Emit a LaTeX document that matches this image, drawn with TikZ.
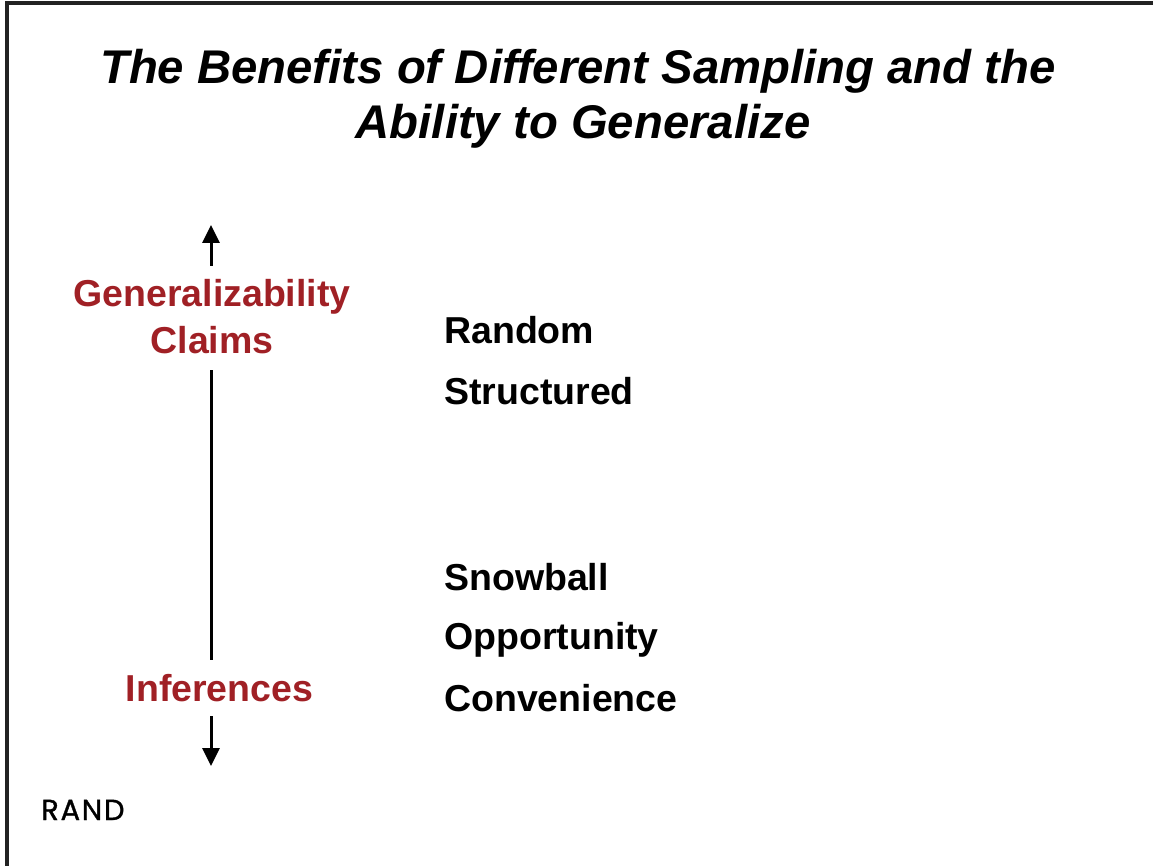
\documentclass[tikz,border=0pt]{standalone}
\usepackage{fontspec}
\setmainfont{Liberation Sans}
\newfontfamily\logofont[LetterSpace=6,FakeBold=1.2]{Poppins}
\usetikzlibrary{arrows.meta}
\definecolor{randred}{RGB}{160,32,37}
\definecolor{framegray}{RGB}{34,34,34}
\tikzset{
  titletext/.style={font=\fontsize{47.3}{56}\selectfont\bfseries\itshape, anchor=base, inner sep=0pt},
  axislabel/.style={font=\fontsize{37.5}{46}\selectfont\bfseries, text=randred, anchor=base, inner sep=0pt},
  item/.style={font=\fontsize{37.5}{46}\selectfont\bfseries, anchor=base west, inner sep=0pt},
  axisline/.style={line width=3pt, black},
  axisarrow/.style={line width=3pt, black, -{Triangle[length=18pt,width=17pt]}},
  frameline/.style={line width=3.5pt, framegray}
}
\begin{document}
\begin{tikzpicture}[x=1pt, y=-1pt]
\useasboundingbox (0,0) rectangle (1153,866);
% frame
\coordinate (fbl) at (7,866);
\coordinate (ftl) at (7,3);
\coordinate (ftr) at (1153,3);
\draw[frameline] (fbl) -- (ftl) -- (ftr);
% title
\node[titletext] (t1) at (578,84) {The Benefits of Different Sampling and the};
\node[titletext] (t2) at (583,139) {Ability to Generalize};
% axis labels
\node[axislabel] (gen) at (212,307) {Generalizability};
\node[axislabel] (claims) at (212,353) {Claims};
\node[axislabel] (inf) at (219.5,701) {Inferences};
% items
\node[item] (random) at (444,344) {Random};
\node[item] (structured) at (444,404) {Structured};
\node[item] (snowball) at (444,590) {Snowball};
\node[item] (opportunity) at (444,649) {Opportunity};
\node[item] (convenience) at (444,711) {Convenience};
% axis
\coordinate (upstart) at (211,266);
\coordinate (uptip) at (211,225);
\coordinate (linetop) at (211,370);
\coordinate (linebot) at (211,660);
\coordinate (downstart) at (211,716);
\coordinate (downtip) at (211,766);
\draw[axisarrow] (upstart) -- (uptip);
\draw[axisline] (linetop) -- (linebot);
\draw[axisarrow] (downstart) -- (downtip);
% logo
\node[font=\logofont\fontsize{29}{30}\selectfont, anchor=base west, inner sep=0pt] (rand) at (41,820) {RAND};
\end{tikzpicture}
\end{document}
